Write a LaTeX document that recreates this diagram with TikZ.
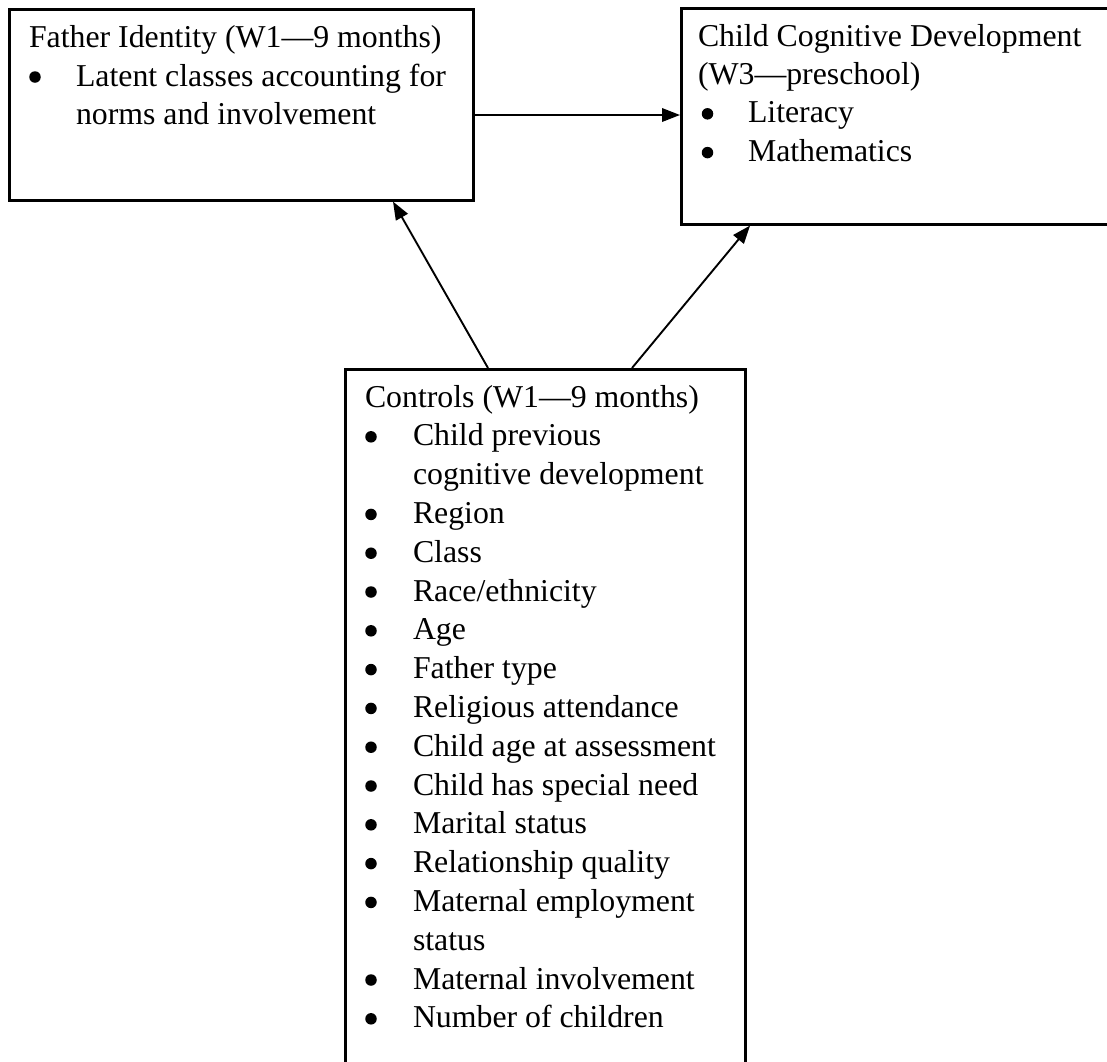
\documentclass[tikz,border=0pt]{standalone}
\usepackage{fontspec}
\setmainfont{Liberation Serif}
\usetikzlibrary{positioning,calc,arrows.meta}
\tikzset{
  frame/.style={draw=black,line width=2.6pt,inner sep=0pt,anchor=north west},
  txt/.style={anchor=base west,inner sep=0pt,outer sep=0pt,
              font=\fontsize{31.8}{38.8}\selectfont},
  dot/.style={circle,fill=black,inner sep=0pt,minimum size=11.5pt},
  flow/.style={-{Triangle[length=18pt,width=13.5pt]},line width=1.9pt,draw=black}
}

\begin{document}
\begin{tikzpicture}[x=1pt,y=-1pt]
  \useasboundingbox (0,0) rectangle (1107,1061);

  % boxes
  \node[frame,minimum width=464pt,minimum height=191pt] (father) at (8,8) {};
  \node[frame,minimum width=460pt,minimum height=216pt] (child) at (680,7) {};
  \node[frame,minimum width=400pt,minimum height=720pt] (ctrl) at (344,368) {};

  % father identity
  \node[txt] (father-title) at (29,47) {Father Identity (W1—9 months)};
  \node[dot] (father-dot) at (35,77) {};
  \node[txt] (father-1) at (76,86) {Latent classes accounting for};
  \node[txt] (father-2) at (76,124) {norms and involvement};

  % child cognitive development
  \node[txt] (child-title) at (698,46) {Child Cognitive Development};
  \node[txt] (child-sub) at (698,84) {(W3—preschool)};
  \foreach \t [count=\i] in {Literacy,Mathematics} {
    \node[dot] (child-dot-\i) at (707.5,75+\i*38.8) {};
    \node[txt] (child-\i) at (748,84+\i*38.8) {\t};
  }

  % controls
  \node[txt] (ctrl-title) at (365,407) {Controls (W1—9 months)};
  \foreach \b/\t [count=\i] in {1/Child previous,0/cognitive development,
      1/Region,1/Class,1/{Race/ethnicity},1/Age,1/Father type,
      1/Religious attendance,1/Child age at assessment,
      1/Child has special need,1/Marital status,1/Relationship quality,
      1/Maternal employment,0/status,1/Maternal involvement,
      1/Number of children} {
    \node[txt] (ctrl-\i) at (413,407+\i*38.8) {\t};
    \ifnum\b=1 \node[dot] (ctrl-dot-\i) at (371,398+\i*38.8) {};\fi
  }

  % connectors
  \coordinate (fa-out) at ($(father.north east)+(0,107)$);
  \coordinate (ct-left) at ($(ctrl.north west)+(144,0)$);
  \coordinate (ct-right) at ($(ctrl.north west)+(288,0)$);
  \coordinate (fa-in) at ($(father.south west)+(385,0)$);
  \coordinate (ch-in) at ($(child.south west)+(70,0)$);
  \draw[flow] (fa-out) -- (fa-out -| child.west);
  \draw[flow] (ct-left) -- (fa-in);
  \draw[flow] (ct-right) -- (ch-in);
\end{tikzpicture}
\end{document}
